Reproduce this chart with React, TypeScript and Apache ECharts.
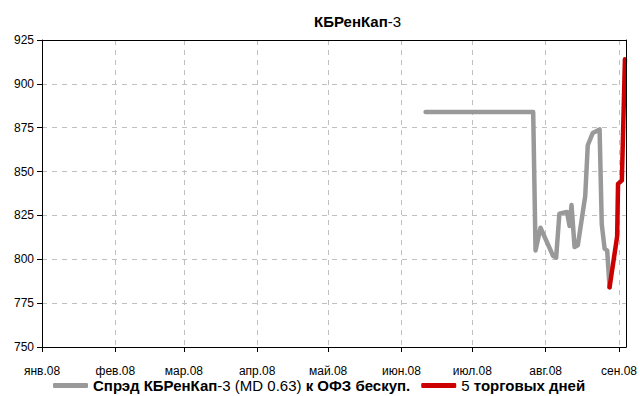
import React, { useEffect, useRef } from "react";
import * as echarts from "echarts";

const monthLabels = ["янв.08", "фев.08", "мар.08", "апр.08", "май.08", "июн.08", "июл.08", "авг.08", "сен.08"];

const spreadDates = [
  "2008-06-11 05:00", "2008-07-26 17:00", "2008-07-27 17:00", "2008-07-29 19:00",
  "2008-08-04 02:00", "2008-08-05 10:00", "2008-08-06 19:00", "2008-08-10 00:00",
  "2008-08-11 02:00", "2008-08-11 22:00", "2008-08-13 05:00", "2008-08-14 14:00",
  "2008-08-17 17:00", "2008-08-18 19:00", "2008-08-20 22:00", "2008-08-23 19:00",
  "2008-08-24 17:00", "2008-08-25 22:00", "2008-08-27 00:00", "2008-08-28 00:00",
];
const spreadValues = [884, 884, 805, 818, 802, 801, 826, 827, 819, 831, 807, 808, 836, 865, 872, 874, 820, 806, 805, 784];

const lastDates = ["2008-08-28 00:00", "2008-08-31 05:00", "2008-08-31 14:00", "2008-09-02 05:00", "2008-09-03 12:00"];
const lastValues = [784, 813, 843, 845, 914];

const FONT = "'Liberation Sans', Arial, sans-serif";

export default function App() {
  const ref = useRef<HTMLDivElement>(null);
  useEffect(() => {
    document.body.style.margin = "0";
    const chart = echarts.init(ref.current!, undefined, { renderer: "svg" });
    chart.setOption({
      animation: false,
      backgroundColor: "#fff",
      textStyle: { fontFamily: FONT },
      title: {
        text: "{b|КБРенКап}{n|-3}",
        left: 309,
        top: 9,
        textStyle: {
          rich: {
            b: { fontFamily: FONT, fontSize: 15, fontWeight: "bold", color: "#000" },
            n: { fontFamily: FONT, fontSize: 15, fontWeight: "normal", color: "#000" },
          },
        },
      },
      legend: {
        left: 53,
        top: 378,
        padding: 0,
        itemGap: 11,
        itemWidth: 35,
        itemHeight: 5,
        icon: "roundRect",
        data: ["spread", "last"],
        formatter: (name: string) =>
          name === "spread"
            ? "{b|Спрэд КБРенКап}{n|-3 (MD 0.63)}{b| к ОФЗ бескуп.}"
            : "{n|5}{b| торговых дней}",
        textStyle: {
          rich: {
            b: { fontFamily: FONT, fontSize: 15, lineHeight: 17, fontWeight: "bold", color: "#000" },
            n: { fontFamily: FONT, fontSize: 15, lineHeight: 17, fontWeight: "normal", color: "#000" },
          },
        },
      },
      grid: { left: 42, right: 12, top: 40, bottom: 49 },
      xAxis: [
        {
          type: "time",
          min: "2008-01-01 00:00",
          max: "2008-09-04 00:00",
          splitNumber: 8,
          axisLine: { lineStyle: { color: "#000" } },
          axisTick: { show: true, length: 5, lineStyle: { color: "#000" } },
          axisLabel: {
            color: "#000",
            fontSize: 12,
            margin: 18,
            fontFamily: FONT,
            hideOverlap: false,
            formatter: (v: number) => {
              const d = new Date(v);
              return d.getDate() === 1 ? monthLabels[d.getMonth()] : "";
            },
          },
          splitLine: { show: true, lineStyle: { color: "#c0c0c0", type: [5, 5] } },
        },
        {
          type: "time",
          position: "top",
          min: "2008-01-01 00:00",
          max: "2008-09-04 00:00",
          z: 10,
          axisLine: { show: true, lineStyle: { color: "#000" } },
          axisTick: { show: false },
          axisLabel: { show: false },
          splitLine: { show: false },
        },
      ],
      yAxis: [
        {
          type: "value",
          min: 750,
          max: 925,
          interval: 25,
          axisLine: { show: true, lineStyle: { color: "#000" } },
          axisTick: { show: true, length: 5, lineStyle: { color: "#000" } },
          axisLabel: { color: "#000", fontSize: 12, margin: 8, fontFamily: FONT },
          splitLine: { show: true, lineStyle: { color: "#c0c0c0", type: [5, 5] } },
        },
        {
          type: "value",
          position: "right",
          min: 750,
          max: 925,
          interval: 25,
          z: 10,
          axisLine: { show: true, lineStyle: { color: "#000" } },
          axisTick: { show: false },
          axisLabel: { show: false },
          splitLine: { show: false },
        },
      ],
      series: [
        {
          name: "spread",
          type: "line",
          showSymbol: false,
          symbol: "none",
          data: spreadDates.map((d, i) => [d, spreadValues[i]]),
          lineStyle: { color: "#999999", width: 4.5, cap: "round", join: "round" },
          itemStyle: { color: "#999999" },
        },
        {
          name: "last",
          type: "line",
          showSymbol: false,
          symbol: "none",
          data: lastDates.map((d, i) => [d, lastValues[i]]),
          lineStyle: { color: "#cc0000", width: 4.5, cap: "round", join: "round" },
          itemStyle: { color: "#cc0000" },
        },
      ],
    });
    return () => chart.dispose();
  }, []);
  return <div ref={ref} style={{ width: 640, height: 396, position: "absolute", left: 0, top: 0 }} />;
}
